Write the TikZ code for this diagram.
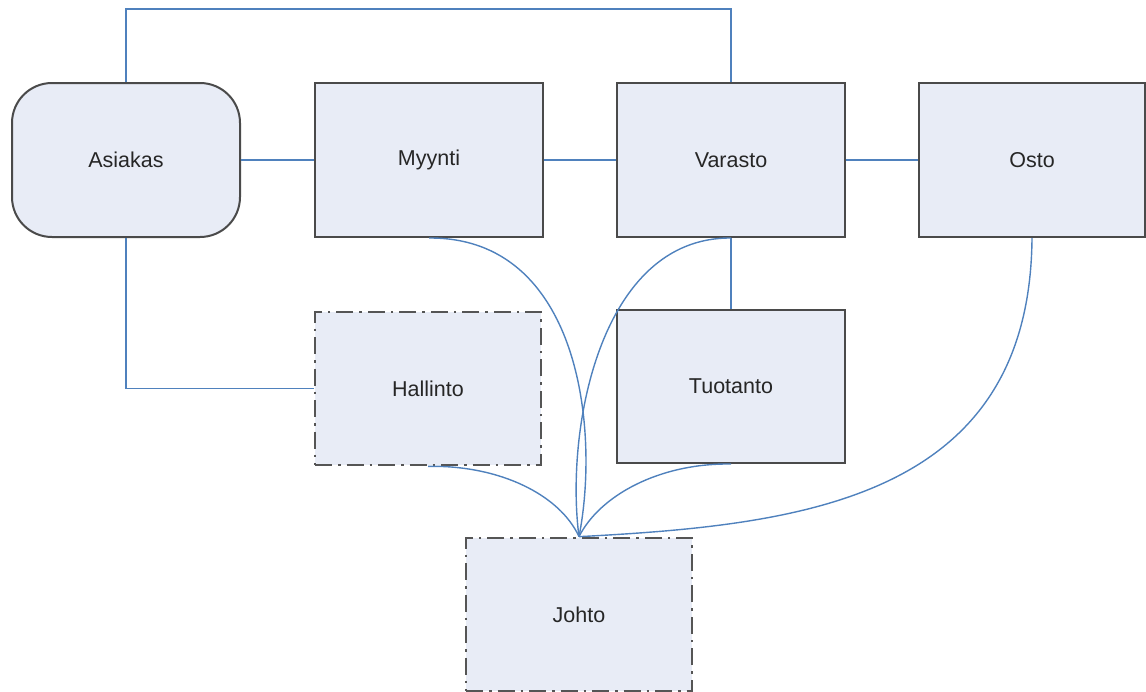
\documentclass[tikz,border=0pt]{standalone}
\usepackage{fontspec}
\setmainfont{Liberation Sans}
\begin{document}
\definecolor{boxfill}{HTML}{E8ECF6}
\definecolor{boxline}{HTML}{4A4A4A}
\definecolor{dashline}{HTML}{555555}
\definecolor{wire}{HTML}{4F81BD}
\definecolor{labeltext}{HTML}{262626}
\begin{tikzpicture}[x=1pt,y=-1pt,
  unit/.style={draw=boxline, line width=2pt, fill=boxfill, inner sep=0pt,
    minimum width=228pt, minimum height=154pt,
    font=\fontsize{21.5}{25}\selectfont, text=labeltext},
  party/.style={unit, rounded corners=40pt},
  admin/.style={unit, draw=dashline, line width=2.7pt,
    dash pattern=on 17pt off 6pt on 2.5pt off 6pt,
    minimum width=226pt, minimum height=153pt},
  wireline/.style={draw=wire, line width=1.4pt}]
\useasboundingbox (0,0) rectangle (1146,691);

% top row
\node[party] (asiakas) at (126,160) {Asiakas};
\node[unit]  (myynti)  at (429,160) {Myynti};
\node[unit]  (varasto) at (731,160) {Varasto};
\node[unit, minimum width=226pt] (osto) at (1032,160) {Osto};

% middle row
\node[admin] (hallinto) at (428,388.5) {Hallinto};
\node[unit, minimum width=228pt, minimum height=153pt] (tuotanto) at (731,386.5) {Tuotanto};

% bottom
\node[admin] (johto) at (579,614.5) {Johto};

\coordinate (topline) at (0,9);

% straight connectors
\draw[wireline] (asiakas.east) -- (myynti.west);
\draw[wireline] (myynti.east) -- (varasto.west);
\draw[wireline] (varasto.east) -- (osto.west);
\draw[wireline] (asiakas.north) -- (asiakas.north |- topline) -| (varasto.north);
\draw[wireline] (asiakas.south) |- (hallinto.west);
\draw[wireline] (varasto.south) -- (tuotanto.north);

% curved connectors into Johto
\draw[wireline] (myynti.south) .. controls (580,237) and (600,430) .. (johto.north);
\draw[wireline] (varasto.south) .. controls (600,237) and (565,430) .. (johto.north);
\draw[wireline] (hallinto.south) .. controls (500,465) and (560,495) .. (johto.north);
\draw[wireline] (tuotanto.south) .. controls (660,463) and (600,495) .. (johto.north);
\draw[wireline] (osto.south) .. controls (1030,500) and (800,525) .. (johto.north);
\end{tikzpicture}
\end{document}
